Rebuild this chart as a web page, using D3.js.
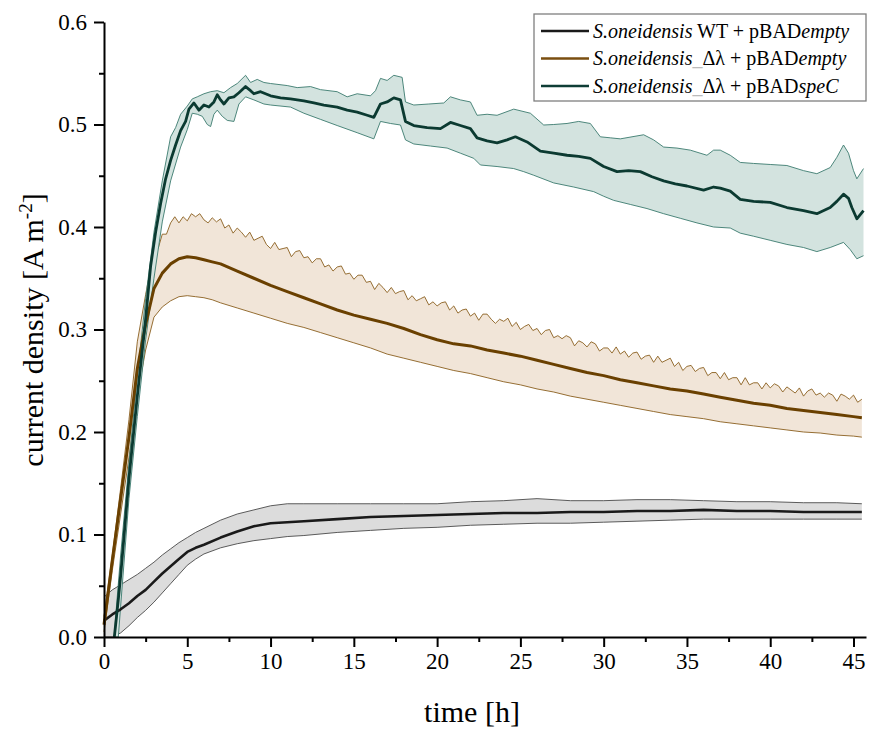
<!DOCTYPE html>
<html>
<head>
<meta charset="utf-8">
<script src="https://cdn.jsdelivr.net/npm/d3@7"></script>
<style>
html,body{margin:0;padding:0;background:#fff;}
svg text{font-family:"Liberation Serif","Times New Roman",serif;}
</style>
</head>
<body>
<svg id="chart" width="869" height="733"></svg>
<script>
// ---------- data ----------
const xTicks = [0,5,10,15,20,25,30,35,40,45];
const xMinor = [2.5,7.5,12.5,17.5,22.5,27.5,32.5,37.5,42.5];
const yTicks = [0,0.1,0.2,0.3,0.4,0.5,0.6];
const yMinor = [0.05,0.15,0.25,0.35,0.45,0.55];

// WT + pBADempty (black)
const blackT = [0,0.5,1,1.5,2,2.5,3,3.5,4,4.5,5,5.5,6,7,8,9,10,11,12,14,16,18,20,22,24,26,28,30,32,34,36,38,40,42,44,45.5];
const blackMean = [0.016,0.022,0.027,0.033,0.040,0.046,0.054,0.062,0.069,0.076,0.083,0.087,0.090,0.097,0.103,0.108,0.111,0.112,0.113,0.115,0.117,0.118,0.119,0.120,0.121,0.121,0.122,0.122,0.123,0.123,0.124,0.123,0.123,0.122,0.122,0.122];
const blackUpper = [0.039,0.046,0.051,0.056,0.061,0.067,0.073,0.080,0.086,0.092,0.097,0.102,0.106,0.114,0.120,0.124,0.128,0.130,0.130,0.130,0.130,0.130,0.130,0.132,0.133,0.135,0.133,0.133,0.134,0.134,0.133,0.132,0.132,0.131,0.131,0.130];
const blackLower = [0,0,0.004,0.011,0.019,0.026,0.034,0.043,0.052,0.061,0.070,0.076,0.081,0.087,0.091,0.094,0.096,0.098,0.099,0.102,0.104,0.106,0.107,0.109,0.110,0.111,0.111,0.112,0.113,0.114,0.115,0.115,0.115,0.115,0.115,0.115];

// Δλ + pBADempty (brown)
const brownT = [0,0.5,1,1.5,2,2.5,3,3.5,4,4.5,5,5.5,6,6.5,7,8,9,10,11,12,13,14,15,16,17,18,19,20,21,22,23,24,25,26,27,28,29,30,31,32,33,34,35,36,37,38,39,40,41,42,43,44,45,45.5];
const brownMean = [0.012,0.075,0.135,0.195,0.262,0.305,0.340,0.355,0.364,0.369,0.371,0.370,0.368,0.366,0.364,0.357,0.350,0.343,0.337,0.331,0.325,0.319,0.314,0.310,0.306,0.301,0.295,0.290,0.286,0.284,0.280,0.277,0.274,0.270,0.266,0.262,0.258,0.255,0.251,0.248,0.245,0.242,0.240,0.237,0.234,0.231,0.228,0.226,0.223,0.221,0.219,0.217,0.215,0.214];
const brownLower = [0.005,0.065,0.120,0.175,0.235,0.280,0.312,0.322,0.328,0.332,0.333,0.332,0.331,0.329,0.326,0.321,0.316,0.311,0.306,0.302,0.297,0.292,0.287,0.282,0.276,0.272,0.268,0.264,0.260,0.257,0.253,0.249,0.246,0.242,0.239,0.235,0.232,0.229,0.226,0.223,0.220,0.217,0.215,0.213,0.210,0.208,0.206,0.204,0.202,0.200,0.199,0.197,0.196,0.195];
const brownUpperT = [0,0.5,1,1.5,2,2.5,
 3,3.25,3.5,3.75, 4,4.25,4.5,4.75, 5,5.25,5.5,5.75, 6,6.25,6.5,6.75, 7,7.25,7.5,7.75, 8,8.25,8.5,8.75, 9,9.25,9.5,9.75,
 10,10.25,10.5,10.75, 11,11.25,11.5,11.75, 12,12.25,12.5,12.75, 13,13.25,13.5,13.75, 14,14.25,14.5,14.75, 15,15.25,15.5,15.75,
 16,16.25,16.5,16.75, 17,17.25,17.5,17.75, 18,18.25,18.5,18.75, 19,19.25,19.5,19.75, 20,20.25,20.5,20.75, 21,21.25,21.5,21.75,
 22,22.25,22.5,22.75, 23,23.25,23.5,23.75, 24,24.25,24.5,24.75, 25,25.25,25.5,25.75, 26,26.25,26.5,26.75, 27,27.25,27.5,27.75,
 28,28.25,28.5,28.75, 29,29.25,29.5,29.75, 30,30.25,30.5,30.75, 31,31.25,31.5,31.75, 32,32.25,32.5,32.75, 33,33.25,33.5,33.75,
 34,34.25,34.5,34.75, 35,35.25,35.5,35.75, 36,36.25,36.5,36.75, 37,37.25,37.5,37.75, 38,38.25,38.5,38.75, 39,39.25,39.5,39.75,
 40,40.25,40.5,40.75, 41,41.25,41.5,41.75, 42,42.25,42.5,42.75, 43,43.25,43.5,43.75, 44,44.25,44.5,44.75, 45,45.25,45.5];
const brownUpper = [0.020,0.080,0.145,0.212,0.288,0.334,
 0.377,0.379,0.393,0.393, 0.404,0.410,0.404,0.410, 0.406,0.413,0.410,0.413, 0.407,0.404,0.409,0.405, 0.408,0.399,0.402,0.394, 0.399,0.395,0.390,0.395, 0.387,0.389,0.391,0.383,
 0.379,0.385,0.378,0.379, 0.380,0.371,0.376,0.377, 0.370,0.371,0.365,0.369, 0.369,0.361,0.363,0.357, 0.361,0.362,0.354,0.355, 0.349,0.353,0.353,0.346,
 0.347,0.339,0.345,0.341, 0.336,0.341,0.335,0.337, 0.338,0.329,0.333,0.328, 0.330,0.332,0.324,0.327, 0.323,0.326,0.327,0.319, 0.323,0.316,0.319,0.320,
 0.313,0.316,0.309,0.315, 0.315,0.310,0.306,0.310, 0.308,0.311,0.303,0.307, 0.300,0.303,0.305,0.299, 0.301,0.295,0.299,0.300, 0.292,0.294,0.291,0.294,
 0.292,0.284,0.289,0.287, 0.283,0.288,0.286,0.279, 0.282,0.282,0.277,0.283, 0.276,0.279,0.273,0.277, 0.278,0.271,0.274,0.275, 0.268,0.274,0.268,0.270,
 0.272,0.264,0.268,0.260, 0.264,0.265,0.259,0.262, 0.263,0.255,0.258,0.258, 0.252,0.258,0.251,0.253, 0.253,0.246,0.253,0.246, 0.248,0.248,0.242,0.248,
 0.243,0.247,0.245,0.239, 0.244,0.241,0.238,0.243, 0.235,0.240,0.242,0.236, 0.238,0.234,0.238,0.236, 0.230,0.237,0.235,0.232, 0.236,0.229,0.232];

// Δλ + pBADspeC (green)
const greenMeanT = [0.62,0.7,0.85,1.0,1.5,2.0,2.5,2.8,3.1,3.4,3.7,4.0,4.3,4.6,4.9,5.1,5.4,5.7,6.0,6.3,6.6,6.8,7.0,7.2,7.5,7.8,8.1,8.5,8.8,9.0,9.4,10,10.6,11.2,12,12.6,13.2,14,14.6,15.2,15.8,16.2,16.6,17.0,17.4,17.8,18.1,18.6,19.4,20.2,20.8,21.4,22.0,22.4,23.0,23.6,24.2,24.7,25.4,26.2,27.0,27.8,28.5,29.2,30.0,30.8,31.5,32.2,32.9,33.6,34.3,35.0,36.0,36.6,37.0,37.6,38.2,39.0,40,41,42,42.8,43.6,44.0,44.4,44.7,44.9,45.2,45.6];
const greenMean = [0,0.012,0.035,0.060,0.155,0.235,0.310,0.362,0.395,0.423,0.447,0.465,0.480,0.494,0.503,0.515,0.521,0.514,0.519,0.517,0.522,0.529,0.524,0.520,0.526,0.527,0.531,0.537,0.533,0.530,0.532,0.528,0.526,0.525,0.523,0.521,0.519,0.517,0.514,0.512,0.509,0.507,0.520,0.522,0.526,0.524,0.503,0.499,0.497,0.496,0.502,0.499,0.496,0.487,0.484,0.482,0.485,0.488,0.483,0.474,0.472,0.470,0.469,0.467,0.459,0.454,0.455,0.454,0.449,0.445,0.442,0.440,0.436,0.439,0.438,0.435,0.427,0.425,0.424,0.419,0.416,0.413,0.419,0.425,0.432,0.428,0.419,0.408,0.416];
const greenUpperT = [0.62,0.7,1.0,1.5,2.0,2.5,3.0,3.5,4.0,4.3,4.6,5.0,5.3,5.6,6.0,6.4,6.8,7.2,7.6,8.0,8.5,8.8,9.2,9.6,10,11,11.6,12.4,13,14,14.6,15.2,16.0,16.3,16.6,17.0,17.4,17.9,18.1,18.6,19.5,20.4,20.8,21.4,22.0,22.4,23.0,23.6,24.6,25.6,26.4,27.0,27.8,28.5,29.2,29.8,30.4,31.0,31.7,32.4,33.0,33.6,34.4,35.2,36.2,36.6,37.0,37.6,38.2,39.0,40,41,42,42.8,43.6,44.0,44.4,44.7,45.0,45.2,45.6];
const greenUpper = [0,0.020,0.080,0.170,0.255,0.330,0.395,0.445,0.488,0.497,0.510,0.518,0.525,0.527,0.530,0.532,0.533,0.531,0.536,0.540,0.548,0.541,0.544,0.541,0.540,0.538,0.536,0.537,0.534,0.532,0.527,0.530,0.528,0.533,0.545,0.543,0.548,0.546,0.522,0.519,0.520,0.521,0.527,0.524,0.522,0.509,0.510,0.509,0.515,0.511,0.4995,0.500,0.501,0.503,0.501,0.488,0.487,0.486,0.488,0.490,0.485,0.478,0.477,0.475,0.470,0.475,0.475,0.470,0.463,0.462,0.461,0.460,0.455,0.452,0.458,0.468,0.480,0.472,0.455,0.447,0.457];
const greenLowerT = [0.62,0.86,1.0,1.5,2.0,2.5,3.0,3.5,4.0,4.6,5.0,5.3,5.6,5.9,6.2,6.4,6.6,6.8,7.1,7.4,7.8,8.1,8.5,9.0,9.6,10,11.2,12,13,14,15.2,16.2,16.6,17.2,17.8,18.1,18.6,19.6,20.6,21.4,22.2,22.6,23.6,24.6,25.2,25.8,27,28.2,29.4,30.0,30.6,31.6,32.6,33.6,34.6,35.6,36.6,37.6,38.2,39,40,41,42,42.8,43.6,44.4,44.8,45.2,45.6];
const greenLower = [0,0,0.030,0.135,0.215,0.290,0.350,0.405,0.445,0.478,0.495,0.511,0.510,0.508,0.500,0.498,0.510,0.514,0.508,0.504,0.503,0.520,0.527,0.524,0.520,0.519,0.517,0.511,0.505,0.499,0.492,0.486,0.503,0.501,0.4995,0.485,0.481,0.479,0.477,0.472,0.467,0.4605,0.459,0.457,0.454,0.4505,0.443,0.439,0.4345,0.430,0.426,0.422,0.418,0.413,0.4085,0.404,0.400,0.399,0.394,0.391,0.387,0.383,0.380,0.376,0.380,0.385,0.378,0.369,0.372];

// ---------- drawing ----------
const svg = d3.select("#chart");
const x = d3.scaleLinear().domain([0,45.75]).range([104,866]);
const y = d3.scaleLinear().domain([0,0.6]).range([637,22]);
const line = d3.line();

function pts(T,V){ return T.map((t,i)=>[x(t),y(V[i])]); }
function band(tU,vU,tL,vL,fill,edge){
  const up = pts(tU,vU), lo = pts(tL,vL);
  svg.append("path").attr("d", line(up.concat(lo.slice().reverse()))+"Z")
     .attr("fill",fill).attr("stroke","none");
  svg.append("path").attr("d",line(up)).attr("fill","none").attr("stroke",edge).attr("stroke-width",0.9);
  svg.append("path").attr("d",line(lo)).attr("fill","none").attr("stroke",edge).attr("stroke-width",0.9);
}
function meanLine(T,V,color,w){
  svg.append("path").attr("d",line(pts(T,V))).attr("fill","none")
     .attr("stroke",color).attr("stroke-width",w).attr("stroke-linejoin","round");
}

band(blackT,blackUpper,blackT,blackLower,"#dcdcdc","#4a4a4a");
band(brownUpperT,brownUpper,brownT,brownLower,"#f1e5d8","#8a5f1e");
band(greenUpperT,greenUpper,greenLowerT,greenLower,"#d3e3df","#3b7a6e");

meanLine(blackT,blackMean,"#1a1a1a",2.6);
meanLine(brownT,brownMean,"#6a4000",3);
meanLine(greenMeanT,greenMean,"#0b3a31",2.8);

// axes
const fs = 23;
svg.append("g").attr("transform","translate(0,637)")
  .call(d3.axisBottom(x).tickValues(xTicks).tickSize(10).tickSizeOuter(0).tickPadding(6).tickFormat(d3.format("d")));
svg.append("g").attr("transform","translate(0,637)")
  .call(d3.axisBottom(x).tickValues(xMinor).tickSize(5).tickSizeOuter(0).tickFormat(""))
  .select(".domain").remove();
svg.append("g").attr("transform","translate(104,0)")
  .call(d3.axisLeft(y).tickValues(yTicks).tickSize(10).tickSizeOuter(0).tickPadding(7).tickFormat(d3.format(".1f")));
svg.append("g").attr("transform","translate(104,0)")
  .call(d3.axisLeft(y).tickValues(yMinor).tickSize(5).tickSizeOuter(0).tickFormat(""))
  .select(".domain").remove();
svg.selectAll("g").attr("font-family","Liberation Serif");
svg.selectAll(".domain").attr("stroke","#000").attr("stroke-width",2);
svg.selectAll(".tick line").attr("stroke","#000").attr("stroke-width",2);
svg.selectAll(".tick text").attr("font-family","Liberation Serif").attr("font-size",fs).attr("fill","#000");

// axis titles
svg.append("text").attr("x",472).attr("y",722).attr("text-anchor","middle")
  .attr("font-size",30).text("time [h]");
const yt = svg.append("text").attr("transform","translate(43,330) rotate(-90)")
  .attr("text-anchor","middle").attr("font-size",30);
yt.append("tspan").text("current density [A m");
yt.append("tspan").attr("font-size",19).attr("dy",-11).text("-2");
yt.append("tspan").attr("dy",11).text("]");

// legend
const legend = svg.append("g");
legend.append("rect").attr("x",534).attr("y",14).attr("width",332).attr("height",87)
  .attr("fill","#fff").attr("stroke","#7f7f7f").attr("stroke-width",1.3);
const entries = [
  {color:"#1a1a1a", parts:[["S.oneidensis","italic","#000"],[" WT + pBAD","normal","#000"],["empty","italic","#000"]]},
  {color:"#7a4e10", parts:[["S.oneidensis","italic","#000"],["_","normal","#bbb"],["Δλ + pBAD","normal","#000"],["empty","italic","#000"]]},
  {color:"#0e3d35", parts:[["S.oneidensis","italic","#000"],["_","normal","#bbb"],["Δλ + pBAD","normal","#000"],["speC","italic","#000"]]}
];
entries.forEach((e,i)=>{
  const cy = 31 + i*27.5;
  legend.append("line").attr("x1",541).attr("x2",589).attr("y1",cy).attr("y2",cy)
    .attr("stroke",e.color).attr("stroke-width",2.6);
  const t = legend.append("text").attr("x",593).attr("y",cy+6.5).attr("font-size",20);
  e.parts.forEach(p=>{
    t.append("tspan").attr("font-style",p[1]).attr("fill",p[2]).text(p[0]);
  });
});
</script>
</body>
</html>
